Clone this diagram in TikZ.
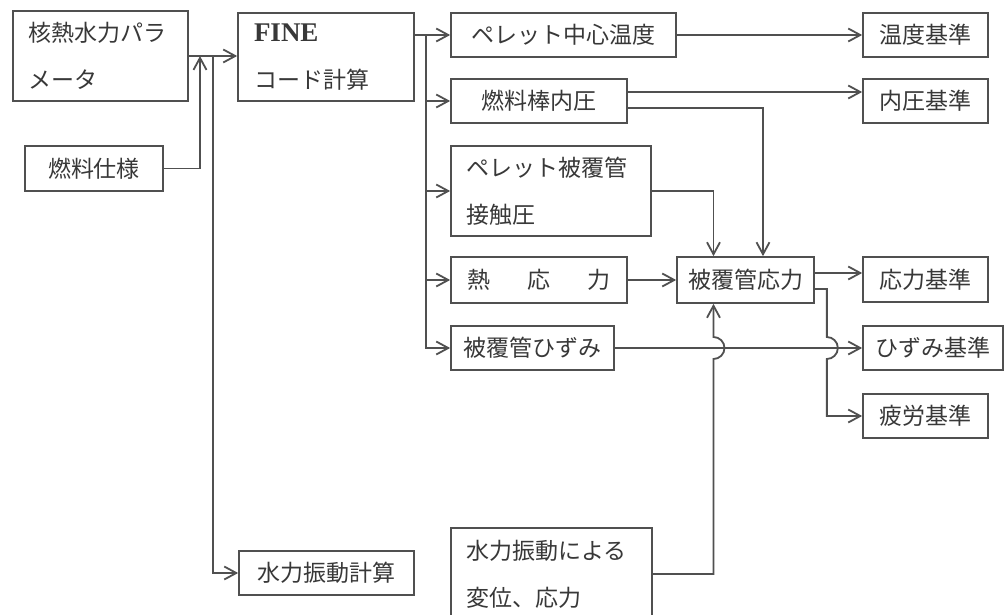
\documentclass[tikz,border=0pt]{standalone}
\usepackage{fontspec}
\newfontfamily\jp{Noto Sans CJK JP}
\newfontfamily\lserif{Liberation Serif}
\usetikzlibrary{arrows.meta,calc}
\definecolor{lc}{HTML}{505050}
\definecolor{tcol}{HTML}{383838}
\begin{document}
\begin{tikzpicture}[x=1pt,y=-1pt,
  box/.style={draw=lc,line width=1.7pt,inner sep=0pt,text=tcol,font=\jp\fontsize{23}{47}\selectfont,align=center},
  lbox/.style={box,align=left},
  arr/.style={draw=lc,line width=1.8pt,-{Straight Barb[length=12pt,width=13pt,line width=1.8pt]}}]
\useasboundingbox (0,0) rectangle (1005,615);
\fill[white] (0,0) rectangle (1005,615);
\clip (0,0) rectangle (1005,615);
% nodes
\node[lbox,minimum width=175pt,minimum height=90pt,text width=145pt] (nk) at (100.5,56) {核熱水力パラ\\メータ};
\node[box,minimum width=138pt,minimum height=45pt] (nf) at (94,168.5) {燃料仕様};
\node[lbox,minimum width=176pt,minimum height=88pt,text width=144pt] (fine) at (326,57) {{\lserif\bfseries\fontsize{27}{47}\selectfont FINE}\\コード計算};
\node[box,minimum width=225pt,minimum height=44pt] (pc) at (563.5,35) {ペレット中心温度};
\node[box,minimum width=176pt,minimum height=44pt] (rp) at (539,101) {燃料棒内圧};
\node[lbox,minimum width=200pt,minimum height=90pt,text width=170pt] (pcp) at (551,191) {ペレット被覆管\\接触圧};
\node[box,minimum width=176pt,minimum height=46pt] (ts) at (539,280) {熱\hspace{37pt}応\hspace{37pt}力};
\node[box,minimum width=163pt,minimum height=44pt] (cs) at (532.5,348) {被覆管ひずみ};
\node[lbox,minimum width=201pt,minimum height=92pt,text width=171pt] (hv) at (551.5,574) {水力振動による\\変位、応力};
\node[box,minimum width=175pt,minimum height=44pt] (hvc) at (326.5,573) {水力振動計算};
\node[box,minimum width=137pt,minimum height=46pt] (cst) at (745.5,280) {被覆管応力};
\node[box,minimum width=125pt,minimum height=44pt] (tc) at (925.5,35) {温度基準};
\node[box,minimum width=125pt,minimum height=44pt] (pcr) at (925.5,101) {内圧基準};
\node[box,minimum width=125pt,minimum height=45pt] (scr) at (925.5,279.5) {応力基準};
\node[box,minimum width=140pt,minimum height=44pt] (stc) at (933,348) {ひずみ基準};
\node[box,minimum width=125pt,minimum height=44pt] (fc) at (925.5,416) {疲労基準};
% junction points
\coordinate (j1) at (200,56);
\coordinate (j2) at (213,56);
\coordinate (bus) at (426,35);
\coordinate (a) at ($(cst.east)+(12,0)$);
\coordinate (b) at ([xshift=-32pt]cst.south);
% connectors
\draw[arr] (nk.east) -- (nk.east -| fine.west);
\draw[arr] (nf.east) -| (j1);
\draw[arr] (j2) |- (hvc.west);
\draw[arr] (fine.east |- pc.west) -- (pc.west);
\draw[arr] (bus) |- (rp.west);
\draw[arr] (bus) |- (pcp.west);
\draw[arr] (bus) |- (ts.west);
\draw[arr] (bus) |- (cs.west);
\draw[arr] (pc.east) -- (tc.west);
\draw[arr] ([yshift=9pt]rp.east) -- ([yshift=9pt]pcr.west);
\draw[arr] ([yshift=-7pt]rp.east) -| ([xshift=17.5pt]cst.north);
\draw[arr] (pcp.east) -| ([xshift=-32pt]cst.north);
\draw[arr] (ts.east) -- (cst.west);
\draw[arr] ([yshift=7pt]cst.east) -- ([yshift=7pt]cst.east -| scr.west);
\draw[arr] (cs.east) -- (stc.west);
\draw[arr] ([yshift=-9pt]cst.east) -| ($(a |- stc.west)+(0,-11)$) arc[start angle=90,end angle=-90,radius=11pt] |- (fc.west);
\draw[arr] (hv.east) -| ($(b |- stc.west)+(0,11)$) arc[start angle=-90,end angle=90,radius=11pt] -- (b);
\end{tikzpicture}
\end{document}
